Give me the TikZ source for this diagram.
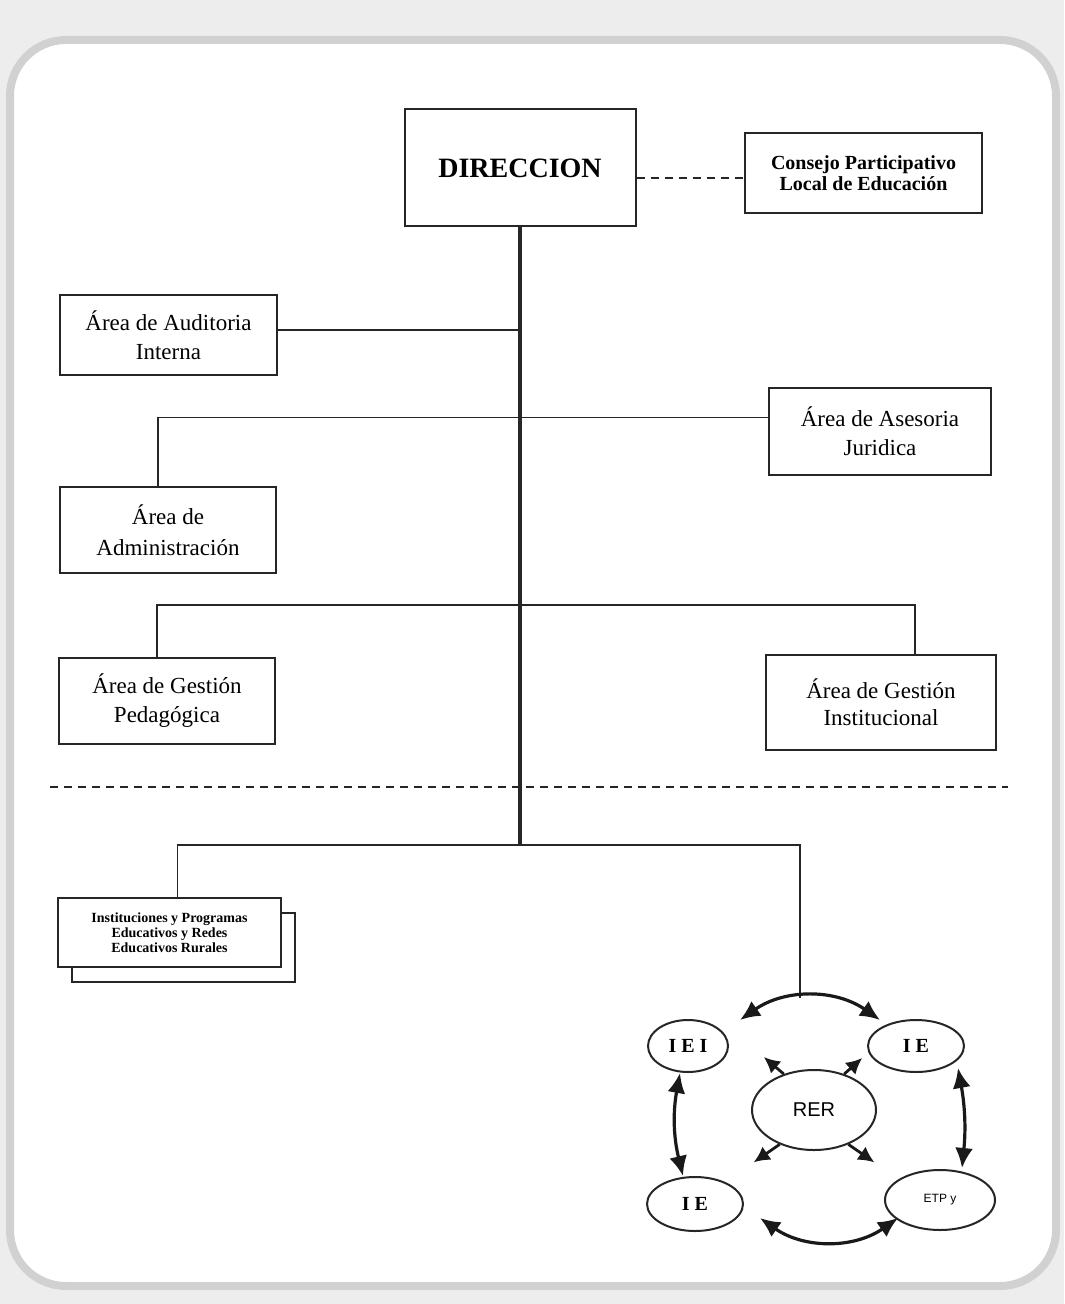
\documentclass[tikz,border=0pt]{standalone}
\usepackage{fontspec}
\setmainfont{Liberation Serif}
\newfontfamily\sansnet{Liberation Sans}
\usepackage{tikz}
\usetikzlibrary{arrows.meta}
\usetikzlibrary{shapes.geometric}
\usetikzlibrary{shadows}

\begin{document}
\begin{tikzpicture}[x=0.5pt,y=-0.5pt,>={Latex[length=10pt,width=9pt]},
    area node/.style={rectangle,draw=black!85,line width=1pt,fill=white,inner sep=0pt,align=center,font=\fontsize{11.5}{14.5}\selectfont},
    ie node/.style={ellipse,draw=black!85,line width=1pt,fill=white,inner sep=0pt,font=\fontsize{10}{12}\selectfont\bfseries},
    link/.style={-,line width=0.9pt,black!85},
    net arrow/.style={<->,line width=1.6pt,black!90},
    rer arrow/.style={->,line width=1.4pt,black!90,>={Latex[length=8pt,width=8pt]}}]
   % page and frame
   \fill[black!7] (0,0) rectangle (1064,1304);
   \draw[black!18,line width=4pt,fill=white,rounded corners=28pt] (10,40) rectangle (1056,1286);
   \begin{scope}
      \node[area node,minimum width=115.5pt,minimum height=58.5pt,font=\fontsize{14}{16}\selectfont\bfseries] (dir) at (520,168) {DIRECCION};
      \node[area node,minimum width=118.5pt,minimum height=40pt,font=\fontsize{10}{10.5}\selectfont\bfseries] (clpe) at (863.5,173) {Consejo Participativo\\Local de Educación};
      \node[area node,minimum width=108.5pt,minimum height=40pt] (aud) at (168.5,335) {Área de Auditoria\\Interna};
      \node[area node,minimum width=111pt,minimum height=43.5pt] (ase) at (880,431.5) {Área de Asesoria\\Juridica};
      \node[area node,minimum width=108pt,minimum height=43pt,font=\fontsize{11.5}{15.5}\selectfont] (adm) at (168,530) {Área de\\Administración};
      \node[area node,minimum width=108pt,minimum height=43pt] (ped) at (167,701) {Área de Gestión\\Pedagógica};
      \node[area node,minimum width=115pt,minimum height=47.5pt,font=\fontsize{11.5}{13.5}\selectfont] (ins) at (881,702.5) {Área de Gestión\\Institucional};
      \node[area node,minimum width=111.5pt,minimum height=34.5pt,font=\fontsize{7}{7.5}\selectfont\bfseries,
            copy shadow={shadow xshift=7pt,shadow yshift=-7.5pt,line width=1pt,draw=black!85}] (iep) at (169.5,932.5) {Instituciones y Programas\\Educativos y Redes\\Educativos Rurales};
      % red educativa rural
      \node[ie node,minimum width=40pt,minimum height=26pt] (iei) at (688,1046) {I E I};
      \node[ie node,minimum width=48pt,minimum height=26pt] (iea) at (916,1046) {I E};
      \node[ie node,minimum width=62pt,minimum height=40pt,font=\sansnet\fontsize{10}{12}\selectfont] (rer) at (814,1110) {RER};
      \node[ie node,minimum width=48pt,minimum height=27pt] (ieb) at (695,1204) {I E};
      \node[ie node,minimum width=55pt,minimum height=30pt,font=\sansnet\fontsize{6}{7}\selectfont] (etp) at (940,1200) {ETP y};

      \coordinate (trunk) at (520,845);
      \coordinate (gbar) at (520,605);
      \coordinate (net) at (800,998);
      \coordinate (sepL) at (50,787);
      \coordinate (sepR) at (1008,787);

      \draw[link,dash pattern=on 4pt off 3pt] ([yshift=-5pt]dir.east) -- ([yshift=-5pt]dir.east -| clpe.west);
      \draw[link,line width=2pt] (dir.south) -- (trunk);
      \draw[link] ([yshift=2.5pt]aud.east) -- ([yshift=2.5pt]aud.east -| dir.south);
      \draw[link] ([yshift=7pt]ase.west) -| ([xshift=-5pt]adm.north);
      \draw[link] ([xshift=-5pt]ped.north) |- (gbar) -| ([xshift=17pt]ins.north);
      \draw[link,dash pattern=on 4pt off 3pt] (sepL) -- (sepR);
      \draw[link] ([xshift=4pt]iep.north) |- (trunk) -| (net);

      \draw[net arrow] ([shift={(26pt,13pt)}]iei.center) to[bend left=35] ([shift={(-18pt,13pt)}]iea.center);
      \draw[net arrow] ([xshift=-4pt]iei.south) to[bend right=12] ([xshift=-6pt]ieb.north);
      \draw[net arrow] ([shift={(21pt,-11pt)}]iea.center) to[bend left=8] ([shift={(11pt,16pt)}]etp.center);
      \draw[net arrow] ([shift={(32.5pt,-7pt)}]ieb.center) to[bend right=35] ([shift={(-21pt,-9pt)}]etp.center);
      \draw[rer arrow] (rer.130) -- ++(-10pt,8.5pt);
      \draw[rer arrow] (rer.50) -- ++(9pt,8pt);
      \draw[rer arrow] (rer.225) -- ++(-13pt,-9pt);
      \draw[rer arrow] (rer.315) -- ++(13pt,-9pt);
   \end{scope}
\end{tikzpicture}
\end{document}
